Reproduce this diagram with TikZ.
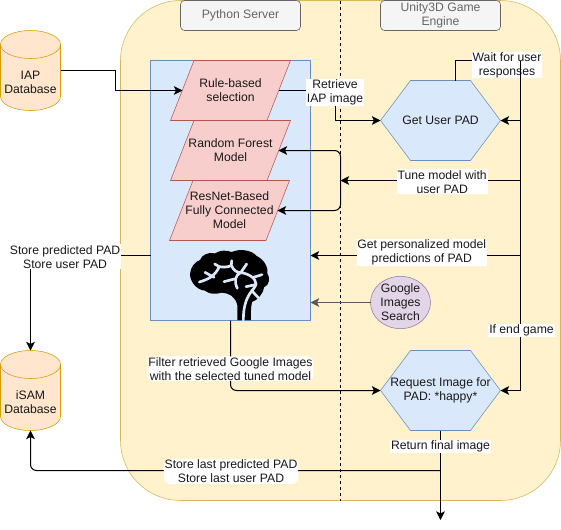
\documentclass[tikz,border=0pt]{standalone}
\usepackage{fontspec}
\setmainfont{Liberation Sans}
\usetikzlibrary{arrows.meta, positioning, shapes.geometric}
\definecolor{panelfill}{HTML}{FFF2CC}
\definecolor{paneldraw}{HTML}{D6B656}
\definecolor{bluefill}{HTML}{DAE8FC}
\definecolor{bluedraw}{HTML}{6C8EBF}
\definecolor{redfill}{HTML}{F8CECC}
\definecolor{reddraw}{HTML}{B85450}
\definecolor{dbfill}{HTML}{FFE6CC}
\definecolor{dbdraw}{HTML}{D79B00}
\definecolor{purplefill}{HTML}{E1D5E7}
\definecolor{purpledraw}{HTML}{9673A6}
\tikzset{
  every node/.style={font=\fontsize{9.15}{10.5}\selectfont, align=center, outer sep=0pt, inner sep=0pt, text=black!90},
  panel/.style={draw=paneldraw, fill=panelfill, rounded corners=45pt, minimum width=330pt, minimum height=375pt},
  header/.style={draw=black!60, fill=black!4, rounded corners=3pt, minimum width=90pt, minimum height=22.5pt, text=black!60},
  server/.style={draw=bluedraw, fill=bluefill, minimum width=120pt, minimum height=195pt},
  model/.style={minimum width=72pt, minimum height=45pt},
  db/.style={minimum width=45pt, minimum height=60pt},
  game/.style={minimum width=90pt, minimum height=60pt},
  search/.style={ellipse, draw=purpledraw, fill=purplefill, minimum width=45pt, minimum height=37.5pt},
  lab/.style={fill=white, inner sep=.6pt},
  line/.style={-{Stealth[length=6.5pt, width=6.5pt, inset=1.6pt]}, line width=.75pt},
  bent/.style={line, rounded corners=4.5pt},
  modelshape/.pic={
    \draw[draw=reddraw, fill=redfill] (-60,30) -- (-36.5,-30) -- (60,-30) -- (36.5,30) -- cycle;
  },
  dbshape/.pic={
    \draw[draw=dbdraw, fill=dbfill] (-30,-26) -- (-30,26) arc[start angle=180, end angle=0, x radius=30, y radius=14] -- (30,-26)
      arc[start angle=0, end angle=-180, x radius=30, y radius=14] -- cycle;
    \draw[draw=dbdraw] (-30,-26) arc[start angle=180, end angle=0, x radius=30, y radius=14];
  },
  hexshape/.pic={
    \draw[draw=bluedraw, fill=bluefill] (-60,0) -- (-30,-40) -- (30,-40) -- (60,0) -- (30,40) -- (-30,40) -- cycle;
  }
}
\begin{document}
\begin{tikzpicture}[x=.75pt, y=-.75pt]
    \useasboundingbox (0,0) rectangle (561,529);

    \node[panel] (engine) at (340.5,250.5) {};
    \draw[line width=.75pt, dash pattern=on 2.25pt off 2.25pt] (engine.north) -- (engine.south);

    \node[header] (python) at (240.5,15.5) {Python Server};
    \node[header, right=60pt of python] (unity) {Unity3D Game\\Engine};

    \node[server] (srv) at (230.5,190.5) {};
    \pic at (230.5,90.5) {modelshape};
    \pic at (230.5,150.5) {modelshape};
    \pic at (229.5,210.5) {modelshape};
    \node[model] (rule) at (230.5,90.5) {Rule-based\\selection};
    \node[model, below=0pt of rule] (forest) {Random Forest\\Model};
    \node[model, below=0pt of forest, xshift=-.75pt] (resnet) {ResNet-Based\\Fully Connected\\Model};

    % brain
    \begin{scope}[shift={(180,240)}, x=.25pt, y=-.25pt]
      \fill[black] (172,240) -- (172,195) .. controls (165,170) and (150,160) .. (125,158)
        .. controls (100,165) and (85,160) .. (75,152) .. controls (50,150) and (30,125) .. (30,102)
        .. controls (32,80) and (45,65) .. (60,60) .. controls (65,45) and (85,35) .. (105,40)
        .. controls (120,30) and (140,30) .. (155,36) .. controls (180,25) and (215,30) .. (230,48)
        .. controls (255,60) and (265,85) .. (262,100) .. controls (272,115) and (268,135) .. (252,142)
        .. controls (248,165) and (232,180) .. (216,186) .. controls (212,205) and (212,225) .. (213,240) -- cycle;
      \draw[bluefill, line width=2pt, line cap=round, line join=round, fill=none]
        (58,126) .. controls (85,118) and (105,108) .. (118,80) .. controls (130,82) and (145,82) .. (154,76) -- (155,62)
        (104,72) -- (118,80)
        (75,97) -- (102,112)
        (154,76) .. controls (160,90) and (170,98) .. (182,98) -- (200,72)
        (182,98) .. controls (205,100) and (228,115) .. (228,132) .. controls (226,150) and (190,160) .. (190,240)
        (182,98) .. controls (165,105) and (162,125) .. (172,145)
        (132,125) -- (163,117)
        (220,112) -- (246,104)
        (198,140) -- (226,134)
        (215,152) -- (238,176);
    \end{scope}

    \pic at (30.5,70.5) {dbshape};
    \pic at (30.5,390.5) {dbshape};
    \node[db] (iap) at (30.5,70.5) {\\[13pt]IAP\\Database};
    \node[db, below=180pt of iap] (isam) {\\[13pt]iSAM\\Database};

    \pic at (440.5,120.5) {hexshape};
    \pic at (440.5,390.5) {hexshape};
    \node[game] (getpad) at (440.5,120.5) {Get User PAD};
    \node[game, below=142.5pt of getpad] (request) {Request Image for\\PAD: *happy*};
    \node[search] (google) at (400.5,302.5) {Google\\Images\\Search};

    \coordinate (iapturn) at (115.5,70.5);
    \coordinate (retrieve) at (335.5,90.5);
    \coordinate (bus) at (520.5,60.5);
    \coordinate (brace) at (340.5,180.5);
    \coordinate (predict) at (310.5,255.5);
    \coordinate (last) at (440.5,470.5);
    \coordinate (out) at (440.5,520);

    \draw[line] (iap.east) -- (iapturn) |- (rule.west);
    \draw[line] (rule.east) -- (retrieve) |- (getpad.west);
    \node[lab] (retrievelab) at (335,92.5) {Retrieve\\IAP image};

    \draw[line] ([xshift=11.25pt]getpad.north) |- (bus) |- (getpad.east);
    \node[lab] (waitlab) at (507,65) {Wait for user\\responses};

    \draw[line] (bus |- brace) -- node[lab, pos=.435, yshift=-.9pt] (tunelab) {Tune model with\\user PAD} (brace);
    \draw[line, rounded corners=4.5pt] (brace) |- (forest.east);
    \draw[line, rounded corners=4.5pt] (brace) |- (resnet.east);

    \draw[line] (bus |- predict) -- node[lab, pos=.47, yshift=2.6pt] (personallab) {Get personalized model\\predictions of PAD} (predict);
    \draw[line] (bus) |- node[lab, pos=.409, xshift=.75pt] (endlab) {If end game} (request.east);
    \draw[line, line width=1pt, draw=black!65] (google.west) -- (srv.east |- google.west);

    \draw[line] (srv.west |- predict) -| node[lab, pos=.356, yshift=-.9pt] (storelab) {Store predicted PAD\\Store user PAD} (isam.north);
    \draw[bent] (srv.south) |- node[lab, pos=.344] (filterlab) {Filter retrieved Google Images\\with the selected tuned model} (request.west);

    \draw[line] (request.south) -- node[lab, pos=.18] (returnlab) {Return final image} (out);
    \draw[bent] (last) -| node[lab, pos=.2555, yshift=-.75pt] (lastlab) {Store last predicted PAD\\Store last user PAD} (isam.south);

\end{tikzpicture}
\end{document}
